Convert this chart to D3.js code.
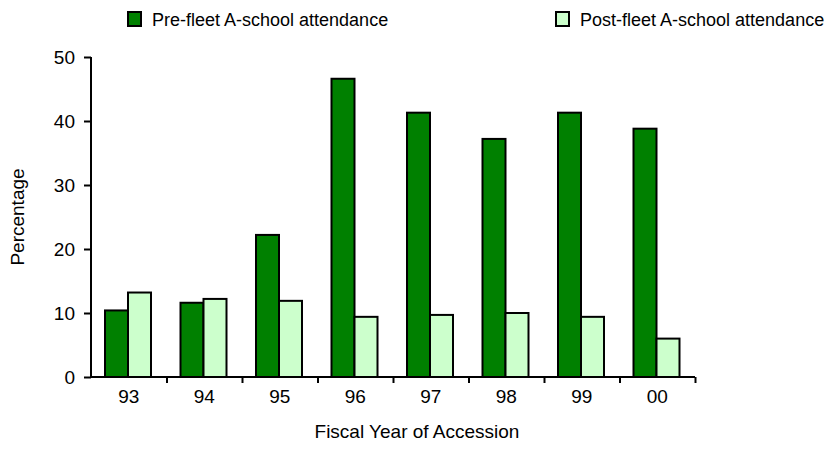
<!DOCTYPE html>
<html>
<head>
<meta charset="utf-8">
<script src="https://cdn.jsdelivr.net/npm/d3@7"></script>
<style>
  html, body { margin: 0; padding: 0; background: #fff; }
  svg { display: block; font-family: "Liberation Sans", Arial, sans-serif; }
</style>
</head>
<body>
<svg id="chart" width="828" height="466"></svg>
<script>
const categories = ["93", "94", "95", "96", "97", "98", "99", "00"];
const seriesNames = ["Pre-fleet A-school attendance", "Post-fleet A-school attendance"];
const preFleet = [10.4, 11.6, 22.2, 46.6, 41.3, 37.2, 41.3, 38.8];
const postFleet = [13.2, 12.2, 11.9, 9.4, 9.7, 10.0, 9.4, 6.0];
const yTicks = [0, 10, 20, 30, 40, 50];
const colors = ["#008000", "#CCFFCC"];

const svg = d3.select("#chart");
const plotLeft = 91, plotRight = 695, plotTop = 57, plotBottom = 377;
const fs = 19;

const x = d3.scaleBand().domain(categories).range([plotLeft, plotRight]).padding(0);
const xBound = d3.scaleLinear().domain([0, categories.length]).range([plotLeft, plotRight]);
const xInner = d3.scaleBand().domain([0, 1]).range([14, 60]).padding(0);
const y = d3.scaleLinear().domain([0, 50]).range([plotBottom, plotTop]);

const data = categories.map((c, i) => ({ cat: c, vals: [preFleet[i], postFleet[i]] }));

// bars
const groups = svg.append("g").selectAll("g").data(data).join("g")
  .attr("transform", d => `translate(${x(d.cat)},0)`);
groups.selectAll("rect").data(d => d.vals.map((v, k) => ({ v, k }))).join("rect")
  .attr("x", d => xInner(d.k))
  .attr("y", d => y(d.v))
  .attr("width", xInner.bandwidth())
  .attr("height", d => y(0) - y(d.v))
  .attr("fill", d => colors[d.k])
  .attr("stroke", "#000")
  .attr("stroke-width", 2);

// y axis
const yAxis = svg.append("g").attr("transform", `translate(${plotLeft},0)`)
  .call(d3.axisLeft(y).tickValues(yTicks).tickSize(7).tickPadding(9).tickFormat(d3.format("d")));
yAxis.select(".domain").attr("stroke", "#000").attr("stroke-width", 2).attr("d", `M0,${plotTop}V${plotBottom}`);
yAxis.selectAll(".tick line").attr("stroke", "#000").attr("stroke-width", 2);
yAxis.selectAll(".tick text").attr("font-size", fs).attr("fill", "#000")
  .attr("font-family", "Liberation Sans, Arial, sans-serif");

// x axis (ticks at category boundaries)
const xAxis = svg.append("g").attr("transform", `translate(0,${plotBottom})`)
  .call(d3.axisBottom(xBound).tickValues(d3.range(0, categories.length + 1)).tickSize(6).tickFormat(""));
xAxis.select(".domain").attr("stroke", "#000").attr("stroke-width", 2).attr("d", `M${plotLeft},0H${plotRight}`);
xAxis.selectAll(".tick line").attr("stroke", "#000").attr("stroke-width", 2);
xAxis.selectAll(".tick").filter(d => d === 0).remove();

// category labels
svg.append("g").selectAll("text").data(categories).join("text")
  .attr("x", d => x(d) + x.bandwidth() / 2)
  .attr("y", 403)
  .attr("text-anchor", "middle")
  .attr("font-size", fs)
  .text(d => d);

// axis titles
svg.append("text").attr("x", 417).attr("y", 438).attr("text-anchor", "middle")
  .attr("font-size", fs).text("Fiscal Year of Accession");
svg.append("text").attr("transform", "translate(24,217) rotate(-90)").attr("text-anchor", "middle")
  .attr("font-size", fs).text("Percentage");

// legend
const legendX = [128, 556];
const legend = svg.append("g").selectAll("g").data(seriesNames).join("g")
  .attr("transform", (d, i) => `translate(${legendX[i]},12)`);
legend.append("rect").attr("width", 13).attr("height", 14)
  .attr("fill", (d, i) => colors[i]).attr("stroke", "#000").attr("stroke-width", 2);
legend.append("text").attr("x", 24).attr("y", 14).attr("font-size", 18).text(d => d);
</script>
</body>
</html>
